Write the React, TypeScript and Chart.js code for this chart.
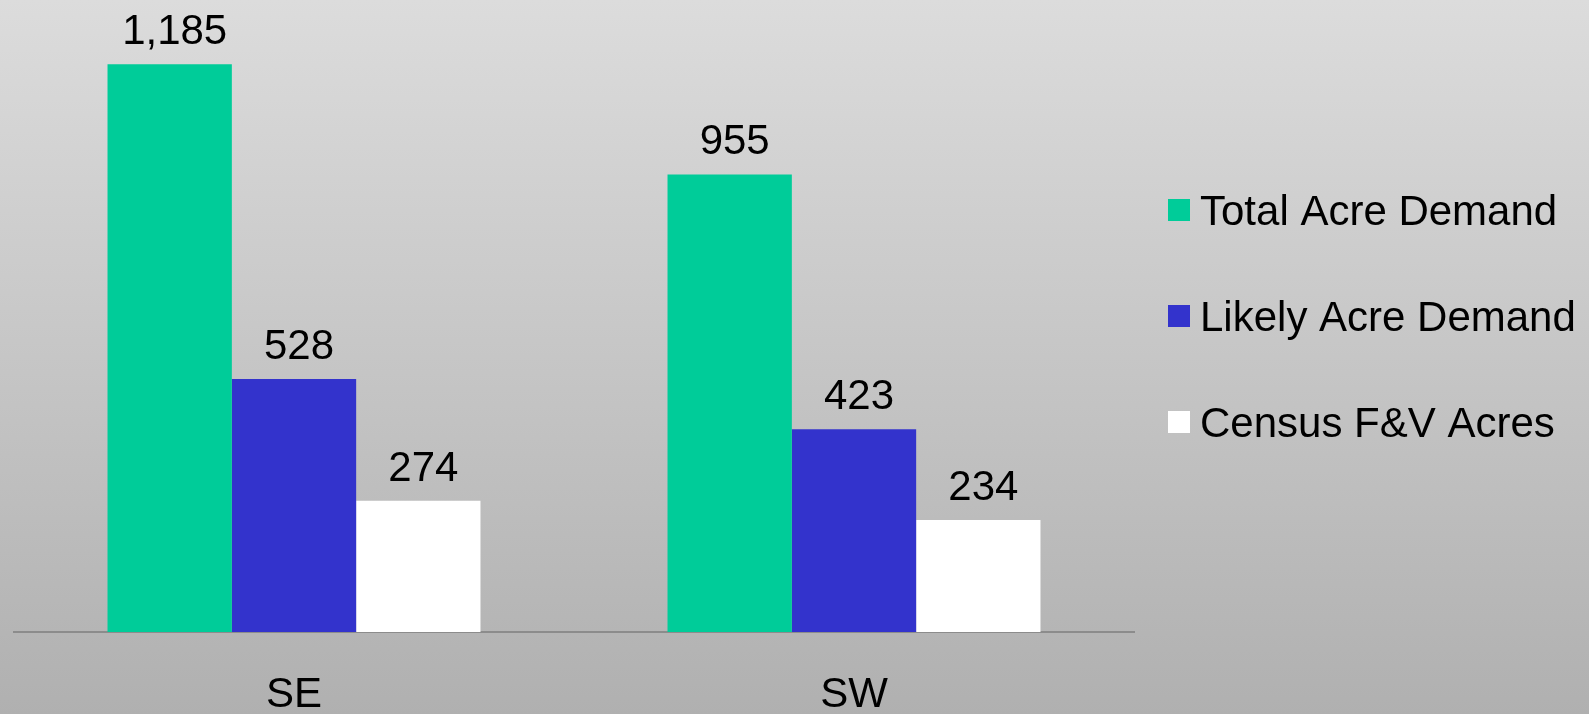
import React, { useEffect, useRef } from "react";
import { Chart, registerables } from "chart.js";

Chart.register(...registerables);

const categories = ["SE", "SW"];
const seriesNames = ["Total Acre Demand", "Likely Acre Demand", "Census F&V Acres"];
const totalAcreDemand = [1185, 955];
const likelyAcreDemand = [528, 423];
const censusFVAcres = [274, 234];
const seriesColors = ["#00CC99", "#3333CC", "#FFFFFF"];
const yMax = 1200;

const FONT = "'Liberation Sans', Arial, sans-serif";

const valueLabels = {
  id: "valueLabels",
  afterDatasetsDraw(chart: any) {
    const ctx = chart.ctx;
    ctx.save();
    ctx.font = `42px ${FONT}`;
    ctx.fillStyle = "#000000";
    ctx.textAlign = "center";
    ctx.textBaseline = "alphabetic";
    chart.data.datasets.forEach((ds: any, di: number) => {
      const meta = chart.getDatasetMeta(di);
      meta.data.forEach((bar: any, i: number) => {
        const v = ds.data[i];
        ctx.fillText(Number(v).toLocaleString("en-US"), bar.x + 5, bar.y - 20);
      });
    });
    ctx.restore();
  },
};

const sideLegend = {
  id: "sideLegend",
  afterDraw(chart: any) {
    const ctx = chart.ctx;
    const area = chart.chartArea;
    const boxX = area.right + 34;
    const firstCenter = 210;
    const step = 106;
    ctx.save();
    ctx.font = `42px ${FONT}`;
    ctx.textAlign = "left";
    ctx.textBaseline = "alphabetic";
    chart.data.datasets.forEach((ds: any, i: number) => {
      const cy = firstCenter + i * step;
      ctx.fillStyle = ds.backgroundColor;
      ctx.fillRect(boxX, cy - 11, 22, 22);
      ctx.fillStyle = "#000000";
      ctx.fillText(ds.label, boxX + 32, cy + 15);
    });
    ctx.restore();
  },
};

export default function App() {
  const canvasRef = useRef<HTMLCanvasElement | null>(null);

  useEffect(() => {
    if (!canvasRef.current) return;
    const seriesData = [totalAcreDemand, likelyAcreDemand, censusFVAcres];
    const chart = new Chart(canvasRef.current, {
      type: "bar",
      data: {
        labels: categories,
        datasets: seriesNames.map((name, i) => ({
          label: name,
          data: seriesData[i],
          backgroundColor: seriesColors[i],
          borderWidth: 0,
          categoryPercentage: 0.666,
          barPercentage: 1.0,
        })),
      },
      options: {
        responsive: false,
        animation: false,
        layout: { padding: { left: 14, right: 455, top: 57, bottom: 0 } },
        plugins: {
          legend: { display: false },
          tooltip: { enabled: false },
        },
        scales: {
          x: {
            grid: { display: false, drawTicks: false },
            border: { display: true, color: "#8c8c8c", width: 2 },
            ticks: {
              color: "#000000",
              font: { family: FONT, size: 42 },
              padding: 38,
            },
            afterFit: (scale: any) => {
              scale.height = 82;
            },
          },
          y: {
            display: false,
            min: 0,
            max: yMax,
          },
        },
      },
      plugins: [valueLabels, sideLegend],
    });
    return () => chart.destroy();
  }, []);

  return (
    <div
      style={{
        position: "fixed",
        left: 0,
        top: 0,
        width: "1589px",
        height: "714px",
        background: "linear-gradient(to bottom, #dcdcdc 0%, #b0b0b0 100%)",
      }}
    >
      <canvas ref={canvasRef} width={1589} height={714} style={{ display: "block" }} />
    </div>
  );
}
